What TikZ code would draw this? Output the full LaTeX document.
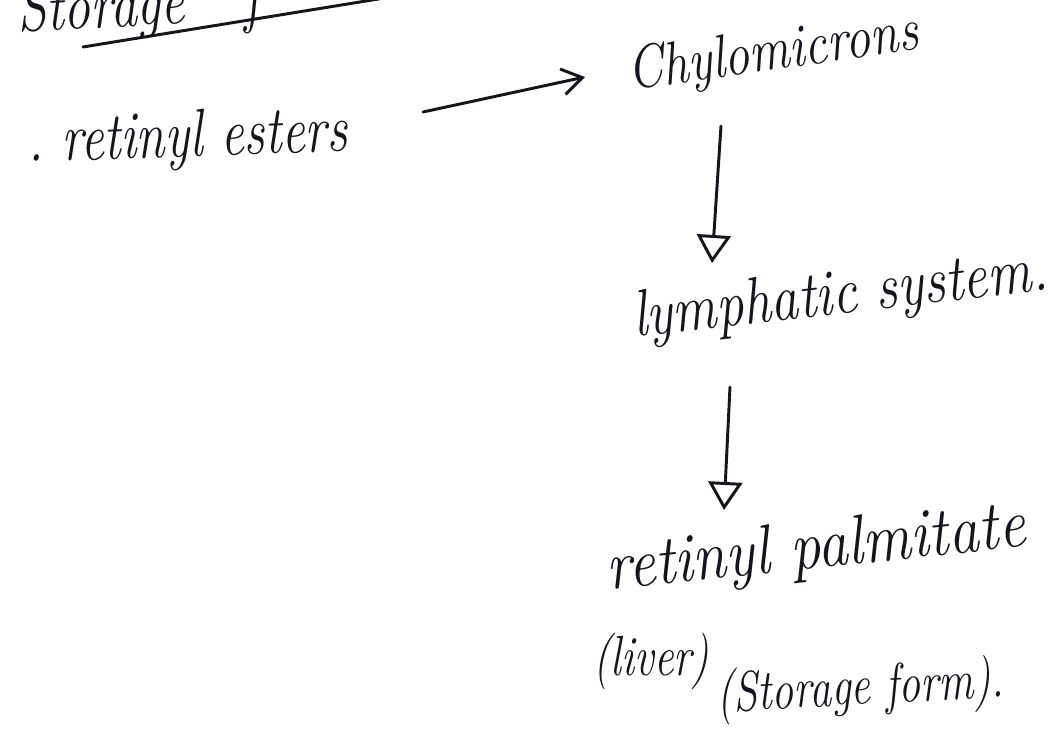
\documentclass[tikz,border=0pt]{standalone}
\usepackage{fontspec}
\usetikzlibrary{arrows.meta}
\definecolor{ink}{HTML}{15151F}
\tikzset{
  hw/.style={font=\fontsize{36}{40}\selectfont\itshape, inner sep=0pt, anchor=base west, text=ink},
  conn/.style={draw=ink, line width=2.1pt, line cap=round},
  barb/.style={conn, -{Straight Barb[length=0.5cm,width=0.65cm]}},
  tri/.style={conn, -{Triangle[open,length=0.7cm,width=0.85cm]}}
}
\begin{document}
\begin{tikzpicture}[x=0.025cm, y=-0.025cm]
  \useasboundingbox (0,0) rectangle (1053,740);
  \clip (0,0) rectangle (1053,740);
  \fill[white] (0,0) rectangle (1053,740);

  % title (cut off at the top edge) and its underline
  \node[hw, font=\fontsize{38}{42}\selectfont\itshape, rotate=3, yscale=1.25] (st) at (18,32) {Storage\hspace{1.1em}f};
  \draw[conn] ([shift={(65,15)}]st.base west) -- ([shift={(385,-37)}]st.base west);

  % flow
  \node[hw, font=\fontsize{37}{42}\selectfont\itshape, rotate=2, yscale=1.3] (ret) at (28,162) {.\ retinyl esters};
  \node[hw, font=\fontsize{36}{40}\selectfont\itshape, rotate=8, yscale=1.2] (chy) at (630,90) {Chylomicrons};
  \node[hw, font=\fontsize{39}{44}\selectfont\itshape, rotate=6.5, yscale=1.2] (lym) at (635,337) {lymphatic system.};
  \node[hw, font=\fontsize{43}{48}\selectfont\itshape, rotate=6, yscale=1.15] (pal) at (608,590) {retinyl palmitate};
  \node[hw, font=\fontsize{31}{36}\selectfont\itshape, yscale=1.3] (liv) at (593,675) {(liver)};
  \node[hw, font=\fontsize{31}{36}\selectfont\itshape, rotate=3, yscale=1.3] (sto) at (717,712) {(Storage form).};

  \draw[barb] ([shift={(395,-50)}]ret.base west) -- ([shift={(-45,-13)}]chy.base west);
  \draw[tri] ([shift={(91,36)}]chy.base west) -- ([shift={(77,-74)}]lym.base west);
  \draw[tri] ([shift={(95,50)}]lym.base west) -- ([shift={(116,-80)}]pal.base west);
\end{tikzpicture}
\end{document}
